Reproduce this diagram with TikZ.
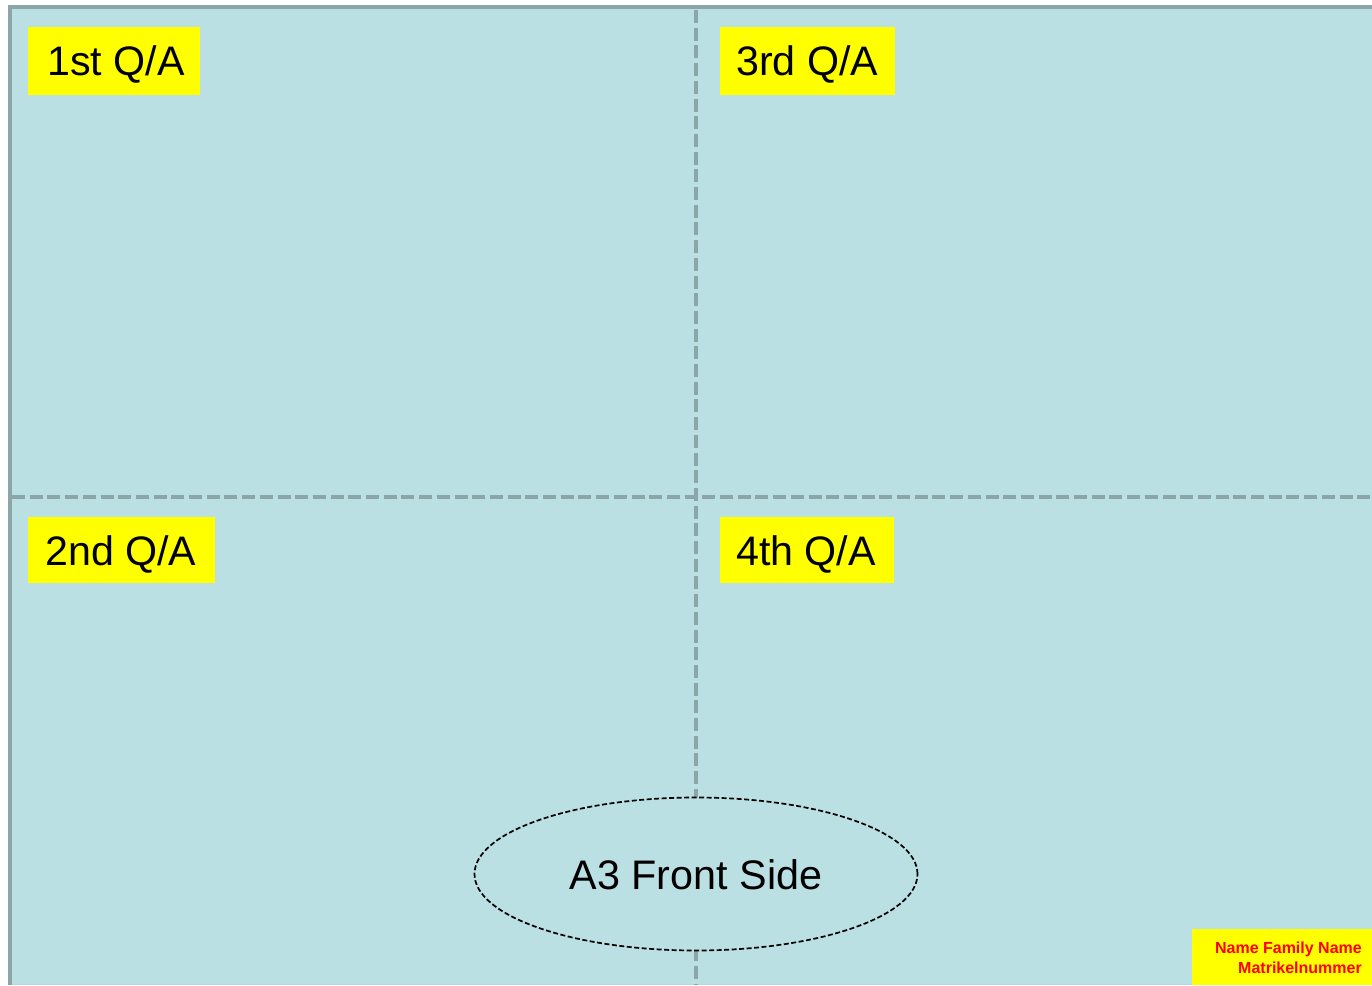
\documentclass[tikz,border=0pt]{standalone}
\usepackage{fontspec}
\setmainfont{Liberation Sans}
\usetikzlibrary{shapes.geometric}
\definecolor{bgblue}{HTML}{BAE0E3}
\definecolor{divgray}{HTML}{8CA5A8}
\definecolor{labyellow}{HTML}{FFFF00}
\definecolor{namered}{HTML}{FF0000}
\tikzset{
  qalabel/.style={fill=labyellow, inner sep=0pt, anchor=north west},
  qatext/.style={font=\fontsize{41.2}{45}\selectfont, anchor=base west, inner sep=0pt, text=black},
  divider/.style={draw=divgray, line width=4pt, dash pattern=on 13pt off 4.7pt},
  nametext/.style={anchor=base east, inner sep=0pt, text=namered, font=\fontsize{16}{20}\bfseries\selectfont},
}
\begin{document}
\begin{tikzpicture}[x=1pt,y=-1pt]
\useasboundingbox (0,0) rectangle (1372,985);
% sheet
\fill[white] (0,0) rectangle (1372,985);
\fill[bgblue] (8,5) rectangle (1372,985);
\draw[divgray, line width=4pt] (10,985) -- (10,7) -- (1372,7);
\draw[bgblue!85!divgray, line width=1pt] (12,984.5) -- (1372,984.5);
% dividers
\coordinate (vtop) at (696,10);
\coordinate (vbot) at (696,985);
\coordinate (hleft) at (12,497);
\coordinate (hright) at (1372,497);
\draw[divider] (vtop) -- (vbot);
\draw[divider] (hleft) -- (hright);
% labels
\node[qalabel, minimum width=172pt, minimum height=68pt] (q1) at (28,27) {};
\node[qatext] (q1t) at (47,75) {1st Q/A};
\node[qalabel, minimum width=175pt, minimum height=68pt] (q3) at (720,27) {};
\node[qatext] (q3t) at (736,75) {3rd Q/A};
\node[qalabel, minimum width=187pt, minimum height=66pt] (q2) at (28,517) {};
\node[qatext] (q2t) at (45,565) {2nd Q/A};
\node[qalabel, minimum width=174pt, minimum height=66pt] (q4) at (720,517) {};
\node[qatext] (q4t) at (736,565) {4th Q/A};
% ellipse
\node[ellipse, draw=black, fill=bgblue, line width=1.7pt, dash pattern=on 5pt off 2.5pt,
      minimum width=443pt, minimum height=153pt, inner sep=0pt] (front) at (696,874) {};
\node[font=\fontsize{41.3}{45}\selectfont, anchor=base, inner sep=0pt] (frontt) at (696,889) {A3 Front Side};
% name box
\node[fill=labyellow, anchor=north west, minimum width=180pt, minimum height=56pt, inner sep=0pt] (namebox) at (1192,929) {};
\node[nametext] (namet) at (1362,953) {Name Family Name};
\node[nametext] (matt) at (1362,973) {Matrikelnummer};
\end{tikzpicture}
\end{document}
